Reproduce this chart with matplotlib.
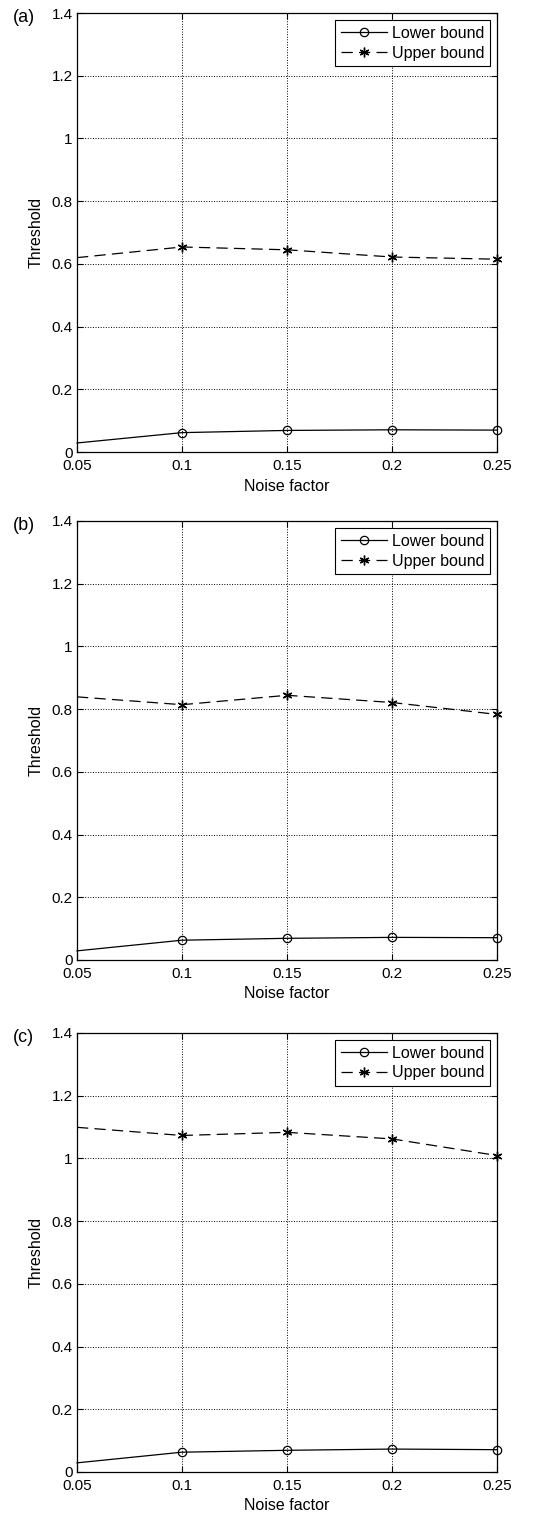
import matplotlib.pyplot as plt
import numpy as np

plt.rcParams['font.family'] = ['Liberation Sans', 'DejaVu Sans']
plt.rcParams['font.size'] = 11

# Datos
noise = [0.05, 0.1, 0.15, 0.2, 0.25]
panels = ['(a)', '(b)', '(c)']
lower_a = [0.029, 0.062, 0.069, 0.071, 0.070]
upper_a = [0.620, 0.654, 0.645, 0.622, 0.615]
lower_b = [0.029, 0.063, 0.069, 0.072, 0.071]
upper_b = [0.839, 0.814, 0.844, 0.821, 0.783]
lower_c = [0.029, 0.063, 0.069, 0.073, 0.071]
upper_c = [1.099, 1.073, 1.083, 1.062, 1.009]

lowers = [lower_a, lower_b, lower_c]
uppers = [upper_a, upper_b, upper_c]
bottoms = [0.702, 0.3672, 0.0297]

fig = plt.figure(figsize=(5.47, 15.17), dpi=100)

for i in range(3):
    ax = fig.add_axes([0.1408, bottoms[i], 0.7678, 0.2894])
    ax.plot(noise, lowers[i], color='black', linestyle='-', linewidth=0.9,
            marker='o', markersize=6, markerfacecolor='none', markeredgewidth=0.9,
            markevery=[1, 2, 3, 4], label='Lower bound', clip_on=False)
    ax.plot(noise, uppers[i], color='black', linestyle=(0, (9, 5)), linewidth=0.9,
            marker=(6, 2, 0), markersize=7, markeredgewidth=1.0,
            markevery=[1, 2, 3, 4], label='Upper bound', clip_on=False)
    ax.set_xlim(0.05, 0.25)
    ax.set_ylim(0, 1.4)
    ax.set_xticks([0.05, 0.1, 0.15, 0.2, 0.25])
    ax.set_xticklabels(['0.05', '0.1', '0.15', '0.2', '0.25'])
    ax.set_yticks([0, 0.2, 0.4, 0.6, 0.8, 1, 1.2, 1.4])
    ax.set_yticklabels(['0', '0.2', '0.4', '0.6', '0.8', '1', '1.2', '1.4'])
    ax.tick_params(direction='in', top=True, right=True, length=4, width=0.8, labelsize=11)
    ax.tick_params(axis='x', pad=5)
    ax.tick_params(axis='y', pad=3)
    ax.grid(True, linestyle=':', color='black', linewidth=0.7)
    for s in ax.spines.values():
        s.set_linewidth(0.9)
    ax.set_xlabel('Noise factor', fontsize=11.5, labelpad=4)
    ax.set_ylabel('Threshold', fontsize=11.5, labelpad=6)
    ax.text(-0.152, 0.99, panels[i], transform=ax.transAxes, fontsize=13, va='center', ha='left')
    leg = ax.legend(loc='upper right', fontsize=11.5, handlelength=2.9, fancybox=False,
                    edgecolor='black', framealpha=1, borderaxespad=0.45,
                    borderpad=0.35, labelspacing=0.3, handletextpad=0.3)
    leg.get_frame().set_linewidth(0.8)

plt.savefig('out.png', dpi=100)
